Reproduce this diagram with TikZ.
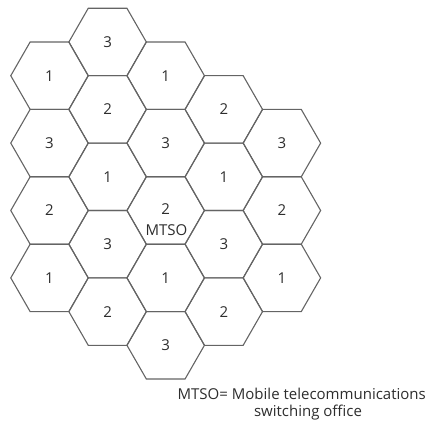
\documentclass[tikz,border=0pt]{standalone}
\usepackage{fontspec}
\setmainfont{Open Sans}
\definecolor{hexgray}{RGB}{100,100,100}
\definecolor{txtgray}{RGB}{45,45,45}
\begin{document}
\begin{tikzpicture}[x=1pt,y=-1pt,
  cell/.style={draw=hexgray, line width=1.1pt, line join=miter},
  num/.style={font=\fontsize{15}{17}\selectfont, text=txtgray, inner sep=0pt},
  captext/.style={font=\fontsize{15}{17}\selectfont, text=txtgray, inner sep=0pt}]
\useasboundingbox (0,0) rectangle (430,427);
\def\R{38.73}
\def\H{33.7}
\foreach \c/\m/\t in {0/1/1,0/3/3,0/5/2,0/7/1,
                      1/0/3,1/2/2,1/4/1,1/6/3,1/8/2,
                      2/1/1,2/3/3,2/5/2,2/7/1,2/9/3,
                      3/2/2,3/4/1,3/6/3,3/8/2,
                      4/3/3,4/5/2,4/7/1}{
  \pgfmathsetmacro\cx{49.5+58.1*\c}
  \pgfmathsetmacro\cy{42+33.7*\m}
  \draw[cell] (\cx+\R,\cy) -- (\cx+\R/2,\cy+\H) -- (\cx-\R/2,\cy+\H)
     -- (\cx-\R,\cy) -- (\cx-\R/2,\cy-\H) -- (\cx+\R/2,\cy-\H) -- cycle;
  \ifnum\c\m=25\relax
    \node[num] (n\c\m) at (\cx,\cy-1) {\t};
  \else
    \node[num] (n\c\m) at (\cx,\cy) {\t};
  \fi
}
\node[num] (mtso) at (166.5,230) {MTSO};
\node[captext, anchor=east] (cap1) at (426,394) {MTSO= Mobile telecommunications};
\node[captext] (cap2) at (308,413) {switching office};
\end{tikzpicture}
\end{document}
